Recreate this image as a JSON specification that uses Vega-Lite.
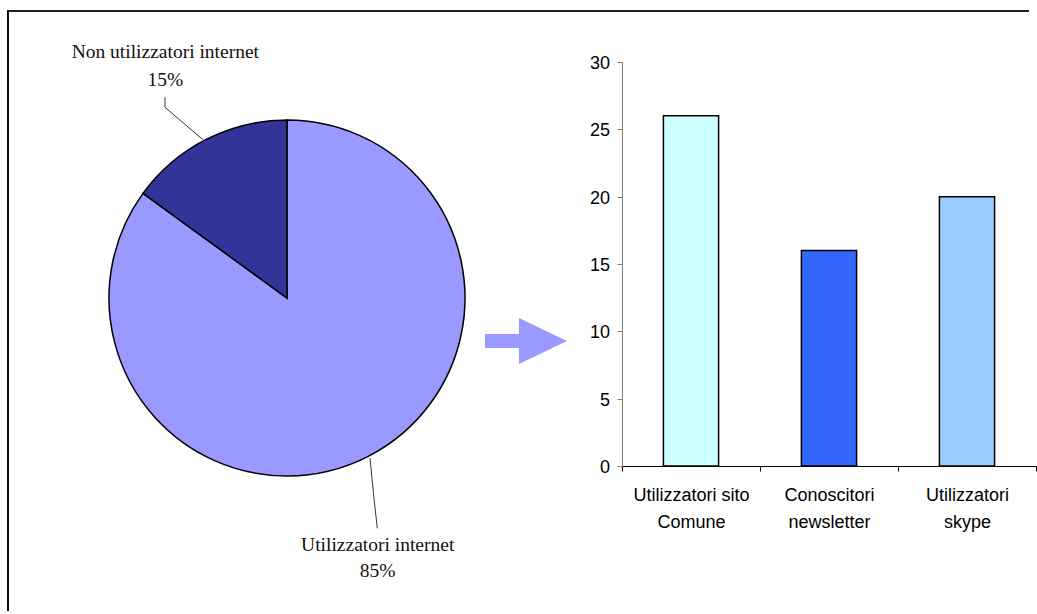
{
  "$schema": "https://vega.github.io/schema/vega-lite/v6.json",
  "autosize": {"type": "pad"},
  "padding": {"left": 6, "top": 9, "right": 0, "bottom": 0},
  "background": "#ffffff",
  "bounds": "flush",
  "spacing": 56,
  "resolve": {"scale": {"color": "independent"}},
  "config": {
    "view": {"stroke": null},
    "font": "Liberation Sans"
  },
  "datasets": {
    "shares": [
      {"segment": "Utilizzatori internet", "share": 0.85, "rank": 1},
      {"segment": "Non utilizzatori internet", "share": 0.15, "rank": 2}
    ],
    "leaders": [
      {"leader": "non", "step": 1, "x": -0.6854, "y": 1.1275},
      {"leader": "non", "step": 2, "x": -0.6854, "y": 1.0713},
      {"leader": "non", "step": 3, "x": -0.4702, "y": 0.8876},
      {"leader": "util", "step": 1, "x": 0.4663, "y": -0.8989},
      {"leader": "util", "step": 2, "x": 0.4860, "y": -1.1000},
      {"leader": "util", "step": 3, "x": 0.5073, "y": -1.2938}
    ],
    "groups": [
      {"group": "Utilizzatori sito Comune", "count": 26},
      {"group": "Conoscitori newsletter", "count": 16},
      {"group": "Utilizzatori skype", "count": 20}
    ]
  },
  "hconcat": [
    {
      "width": 558,
      "height": 472,
      "data": {"name": "shares"},
      "layer": [
        {
          "data": {"values": [{"edge": "top"}]},
          "mark": {"type": "rule", "stroke": "#222222", "strokeWidth": 2, "strokeCap": "square"},
          "encoding": {
            "x": {"datum": -1.56742, "type": "quantitative", "scale": {"domain": [-1.56742, 1.56742], "nice": false, "zero": false}, "axis": null},
            "x2": {"datum": 4.16292},
            "y": {"datum": 1.61236, "type": "quantitative", "scale": {"domain": [-1.32584, 1.32584], "nice": false, "zero": false}, "axis": null}
          }
        },
        {
          "data": {"values": [{"edge": "left"}]},
          "mark": {"type": "rule", "stroke": "#111111", "strokeWidth": 2, "strokeCap": "square"},
          "encoding": {
            "x": {"datum": -1.56742, "type": "quantitative", "scale": {"domain": [-1.56742, 1.56742], "nice": false, "zero": false}, "axis": null},
            "y": {"datum": 1.61236, "type": "quantitative", "scale": {"domain": [-1.32584, 1.32584], "nice": false, "zero": false}, "axis": null},
            "y2": {"datum": -1.75281}
          }
        },
        {
          "mark": {"type": "arc", "outerRadius": 178, "stroke": "#000000", "strokeWidth": 1.5},
          "encoding": {
            "theta": {"field": "share", "type": "quantitative", "stack": true},
            "order": {"field": "rank"},
            "color": {
              "field": "segment",
              "type": "nominal",
              "scale": {"domain": ["Utilizzatori internet", "Non utilizzatori internet"], "range": ["#9999FF", "#333399"]},
              "legend": null
            }
          }
        },
        {
          "data": {"name": "leaders"},
          "mark": {"type": "line", "stroke": "#333333", "strokeWidth": 1},
          "encoding": {
            "x": {"field": "x", "type": "quantitative", "scale": {"domain": [-1.56742, 1.56742], "nice": false, "zero": false}, "axis": null},
            "y": {"field": "y", "type": "quantitative", "scale": {"domain": [-1.32584, 1.32584], "nice": false, "zero": false}, "axis": null},
            "detail": {"field": "leader"},
            "order": {"field": "step"}
          }
        },
        {
          "mark": {"type": "text", "radius": 257, "font": "Liberation Serif", "fontSize": 19.5, "fill": "#111111", "align": "center", "baseline": "alphabetic", "dx": -5, "dy": -11},
          "encoding": {
            "theta": {"field": "share", "type": "quantitative", "stack": true},
            "order": {"field": "rank"},
            "text": {"condition": {"test": "datum.segment === 'Non utilizzatori internet'", "field": "segment"}, "value": ""}
          }
        },
        {
          "mark": {"type": "text", "radius": 257, "font": "Liberation Serif", "fontSize": 19.5, "fill": "#111111", "align": "center", "baseline": "alphabetic", "dx": -5, "dy": 16.5},
          "encoding": {
            "theta": {"field": "share", "type": "quantitative", "stack": true},
            "order": {"field": "rank"},
            "text": {"condition": {"test": "datum.segment === 'Non utilizzatori internet'", "field": "share", "type": "quantitative", "format": ".0%"}, "value": ""}
          }
        },
        {
          "mark": {"type": "text", "radius": 257, "font": "Liberation Serif", "fontSize": 19.5, "fill": "#111111", "align": "center", "baseline": "alphabetic", "dx": -26, "dy": 24},
          "encoding": {
            "theta": {"field": "share", "type": "quantitative", "stack": true},
            "order": {"field": "rank"},
            "text": {"condition": {"test": "datum.segment === 'Utilizzatori internet'", "field": "segment"}, "value": ""}
          }
        },
        {
          "mark": {"type": "text", "radius": 257, "font": "Liberation Serif", "fontSize": 19.5, "fill": "#111111", "align": "center", "baseline": "alphabetic", "dx": -26, "dy": 50.5},
          "encoding": {
            "theta": {"field": "share", "type": "quantitative", "stack": true},
            "order": {"field": "rank"},
            "text": {"condition": {"test": "datum.segment === 'Utilizzatori internet'", "field": "share", "type": "quantitative", "format": ".0%"}, "value": ""}
          }
        },
        {
          "data": {"values": [{"x": 1.3427, "y": -0.24157}]},
          "mark": {
            "type": "point",
            "shape": "M-1,-0.171L-0.171,-0.171L-0.171,-0.561L1,0L-0.171,0.561L-0.171,0.171L-1,0.171Z",
            "size": 6724,
            "filled": true,
            "fill": "#9999FF",
            "opacity": 1,
            "strokeWidth": 0
          },
          "encoding": {
            "x": {"field": "x", "type": "quantitative", "scale": {"domain": [-1.56742, 1.56742], "nice": false, "zero": false}, "axis": null},
            "y": {"field": "y", "type": "quantitative", "scale": {"domain": [-1.32584, 1.32584], "nice": false, "zero": false}, "axis": null}
          }
        }
      ]
    },
    {
      "width": 414,
      "height": 404,
      "data": {"name": "groups"},
      "mark": {"type": "bar", "width": {"band": 0.4}, "stroke": "#000000", "strokeWidth": 1.5},
      "encoding": {
        "x": {
          "field": "group",
          "type": "nominal",
          "sort": null,
          "scale": {"paddingInner": 0, "paddingOuter": 0},
          "axis": {
            "title": null,
            "labelAngle": 0,
            "labelFont": "Liberation Sans",
            "labelFontSize": 18,
            "labelColor": "#000000",
            "labelLineHeight": 27,
            "labelPadding": 15,
            "labelExpr": "[slice(datum.label, 0, lastindexof(datum.label, ' ')), slice(datum.label, lastindexof(datum.label, ' ') + 1)]",
            "tickBand": "extent",
            "tickSize": 5,
            "tickColor": "#000000",
            "domainColor": "#000000",
            "grid": false
          }
        },
        "y": {
          "field": "count",
          "type": "quantitative",
          "scale": {"domain": [0, 30], "nice": false},
          "axis": {
            "title": null,
            "values": [0, 5, 10, 15, 20, 25, 30],
            "grid": false,
            "domainColor": "#808080",
            "tickColor": "#808080",
            "tickSize": 5,
            "labelFont": "Liberation Sans",
            "labelFontSize": 18,
            "labelPadding": 7.5,
            "labelOffset": 1.5,
            "labelColor": "#000000"
          }
        },
        "color": {
          "field": "group",
          "type": "nominal",
          "scale": {
            "domain": ["Utilizzatori sito Comune", "Conoscitori newsletter", "Utilizzatori skype"],
            "range": ["#CCFFFF", "#3366FF", "#99CCFF"]
          },
          "legend": null
        }
      }
    }
  ]
}
